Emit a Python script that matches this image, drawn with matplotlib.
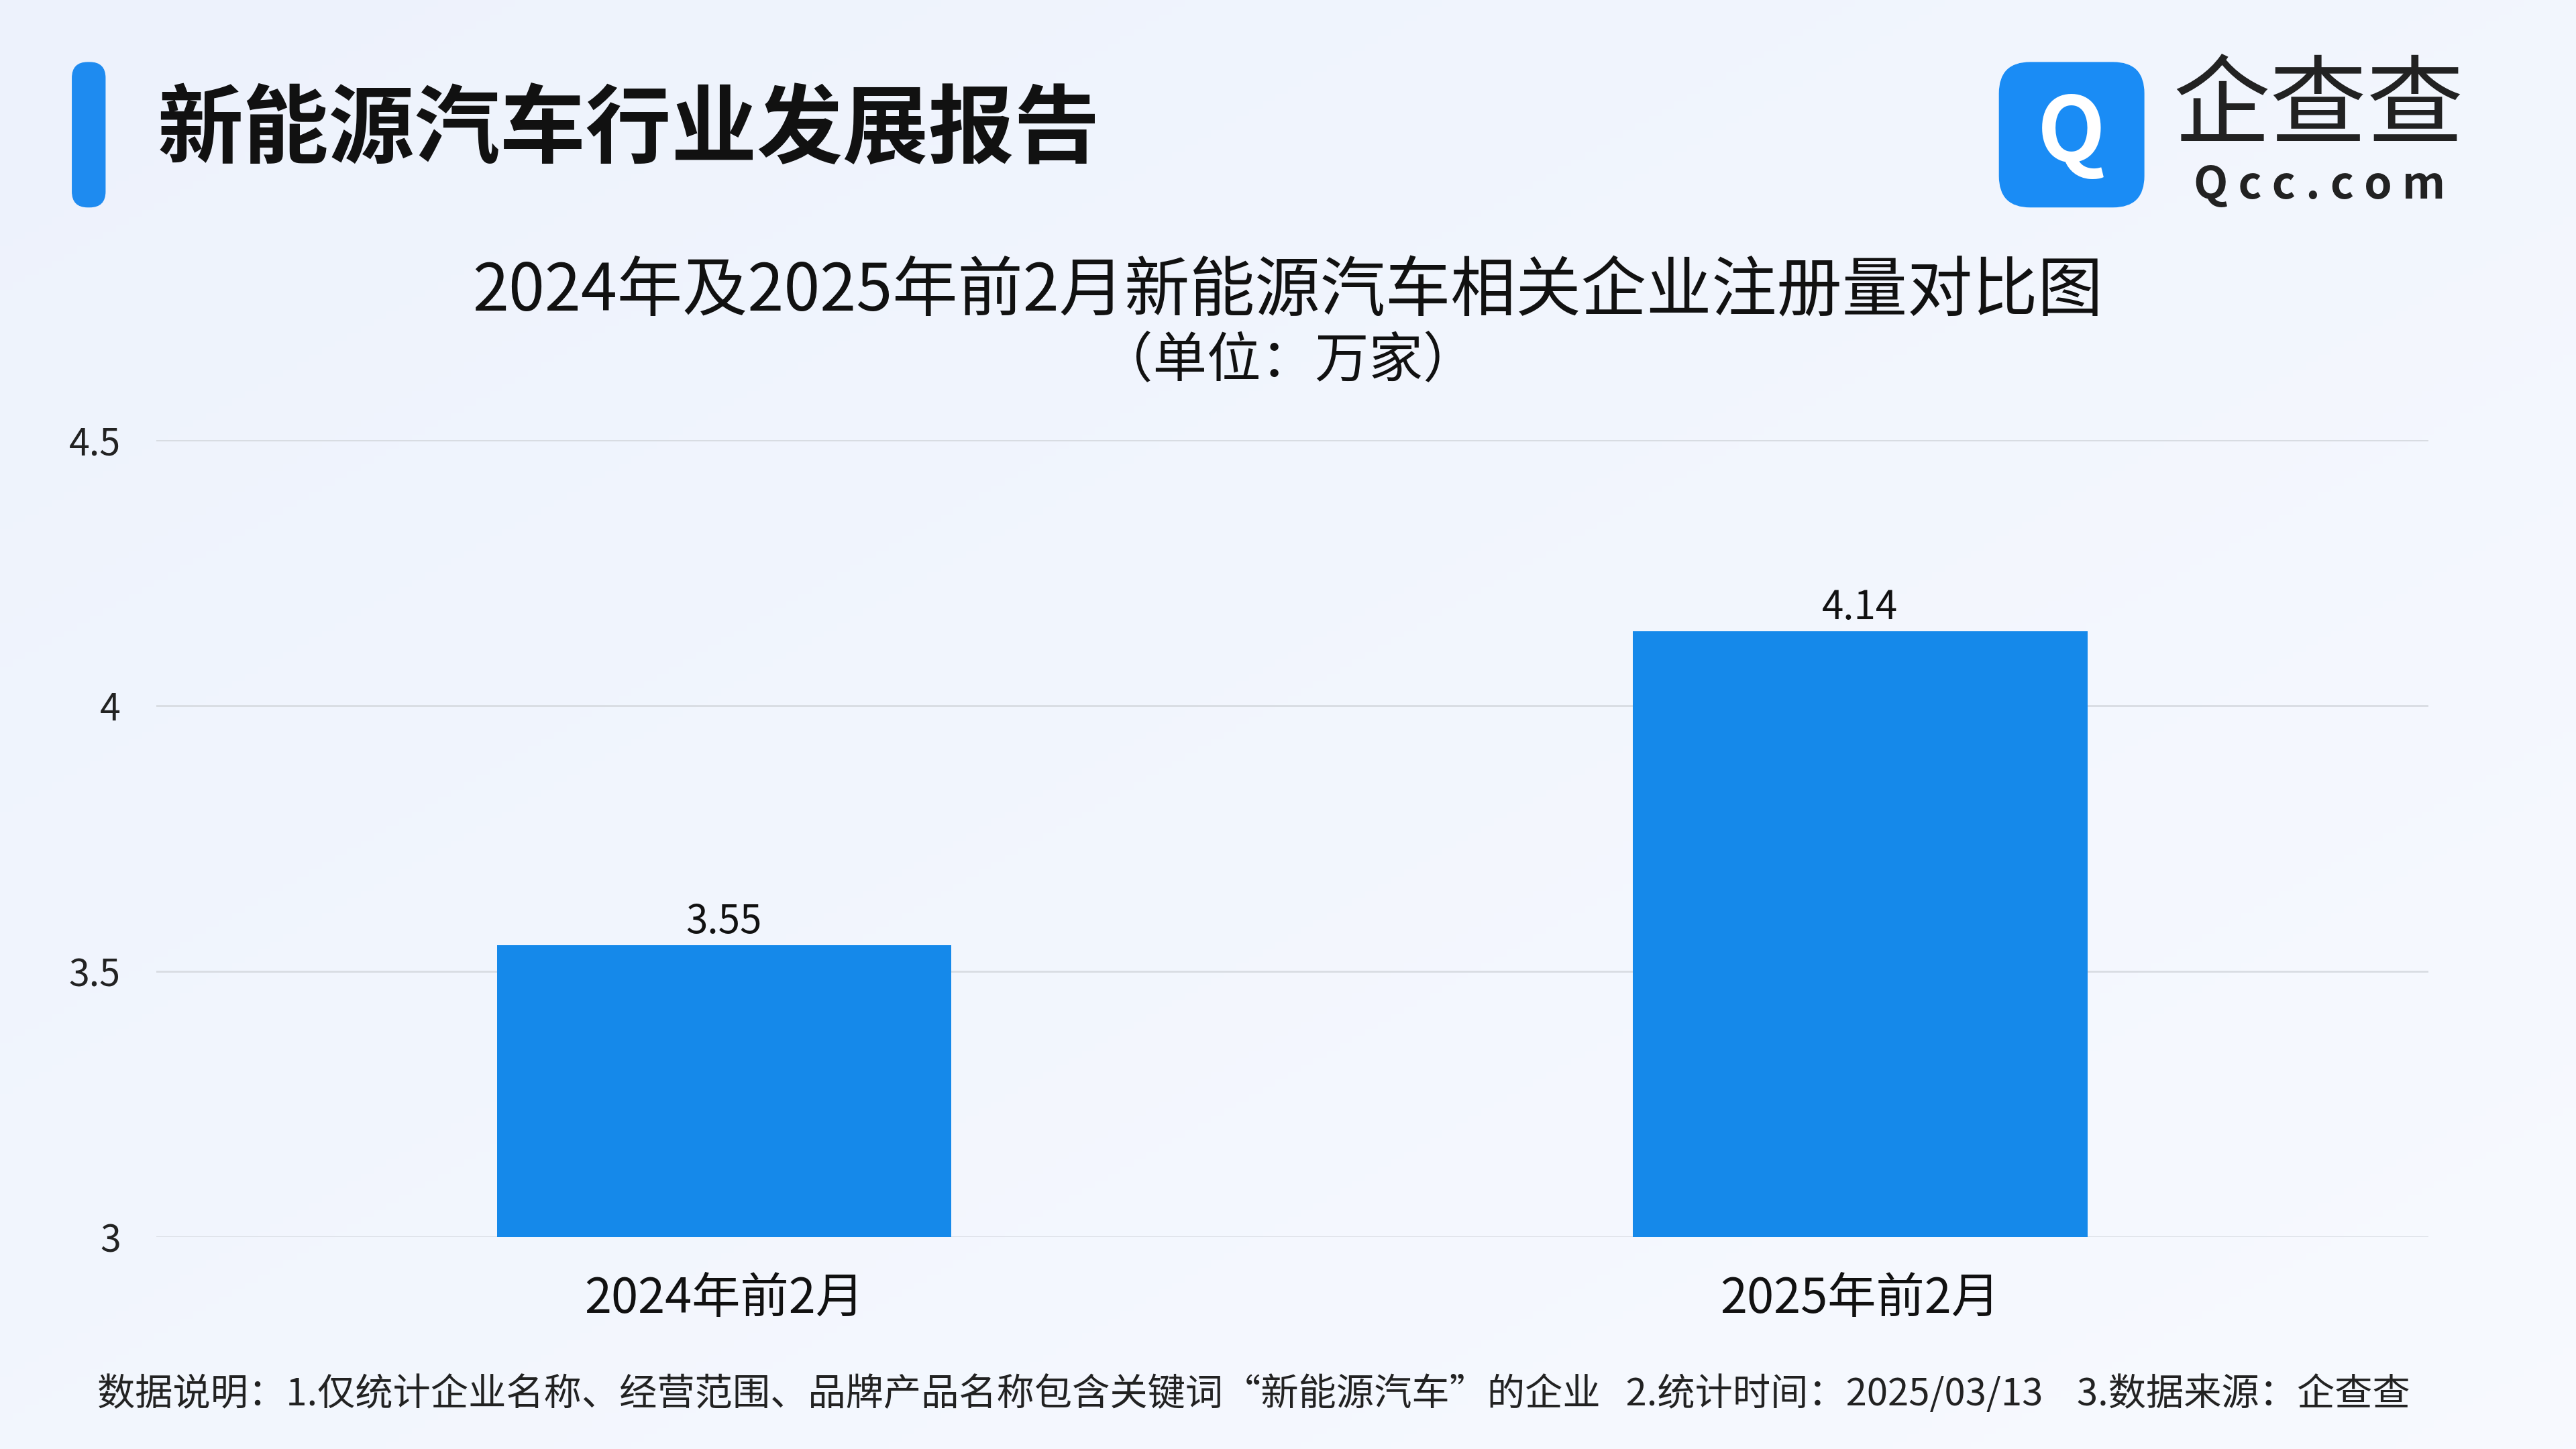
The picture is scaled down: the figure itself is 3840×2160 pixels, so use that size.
import matplotlib
matplotlib.use("Agg")
import matplotlib.pyplot as plt
import numpy as np
from matplotlib.patches import FancyBboxPatch

plt.rcParams['font.family'] = 'Noto Sans CJK SC'

categories = ["2024年前2月", "2025年前2月"]
values = [3.55, 4.14]
yticks = [3, 3.5, 4, 4.5]
ytick_labels = ["3", "3.5", "4", "4.5"]

W, H = 1568, 882
fig = plt.figure(figsize=(38.4, 21.6), dpi=100)

bg = fig.add_axes([0, 0, 1, 1])
yy, xx = np.mgrid[0:1:200j, 0:1:200j]
g = 0.5 * xx + 0.5 * (1 - yy)
c1 = np.array([0.93, 0.95, 0.99]); c2 = np.array([0.97, 0.98, 1.0])
img = c1 + (c2 - c1) * g[..., None]
bg.imshow(img, extent=[0, 1, 0, 1], aspect='auto', origin='lower')
bg.set_xlim(0, 1); bg.set_ylim(0, 1); bg.axis('off')

def fx(x): return x / W
def fy(y): return 1 - y / H

bg.add_patch(FancyBboxPatch((fx(44), fy(126)), fx(20), 88 / H,
             boxstyle="round,pad=0,rounding_size=0.006", color="#1E8BF0", mutation_aspect=W/H))
bg.text(fx(96), fy(80), "新能源汽车行业发展报告", fontsize=92, fontweight='bold',
        color="#111111", va='center', ha='left')

bg.add_patch(FancyBboxPatch((fx(1217), fy(126)), fx(88), 88 / H,
             boxstyle="round,pad=0,rounding_size=0.012", color="#1A8CF5", mutation_aspect=W/H))
bg.text(fx(1261), fy(82), "Q", fontsize=95, fontweight='bold', color="white", ha='center', va='center')
bg.text(fx(1411), fy(66), "企查查", fontsize=104, color="#222222", ha='center', va='center')
bg.text(fx(1412), fy(113), "Q c c . c o m", fontsize=48, fontweight='bold', color="#222222", ha='center', va='center')

bg.text(0.5, fy(178), "2024年及2025年前2月新能源汽车相关企业注册量对比图", fontsize=70,
        fontweight='medium', color="#111111", ha='center', va='center')
bg.text(0.5, fy(220), "（单位：万家）", fontsize=58, fontweight='medium', color="#111111", ha='center', va='center')

bg.text(fx(763), fy(849), "数据说明：1.仅统计企业名称、经营范围、品牌产品名称包含关键词“新能源汽车”的企业   2.统计时间：2025/03/13    3.数据来源：企查查",
        fontsize=40.5, color="#222222", ha='center', va='center')

ax = fig.add_axes([fx(95), fy(753), fx(1478 - 95), (753 - 268) / H])
ax.patch.set_alpha(0)
x = np.arange(len(categories))
ax.bar(x, values, width=0.4, color="#1589EA", zorder=3)
for xi, v in zip(x, values):
    ax.text(xi, v + 0.005, f"{v:.2f}", ha='center', va='bottom', fontsize=42, color="#111111")
ax.set_xlim(-0.5, 1.5)
ax.set_ylim(3, 4.5)
ax.set_yticks(yticks)
ax.set_yticklabels(ytick_labels, fontsize=40, color="#222222")
ax.set_xticks(x)
ax.set_xticklabels(categories, fontsize=52, color="#111111")
ax.grid(axis='y', color="#D8DCE2", linewidth=2, zorder=0)
for s in ax.spines.values():
    s.set_visible(False)
ax.tick_params(axis='both', length=0)
ax.tick_params(axis='x', pad=40)
ax.tick_params(axis='y', pad=38)

fig.savefig("out.png", dpi=100)
